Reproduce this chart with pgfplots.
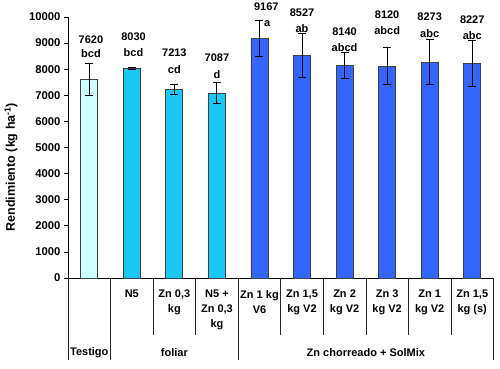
\documentclass[border=0pt]{standalone}
\usepackage{pgfplots}
\pgfplotsset{compat=1.18}
\usepackage{fontspec}
\setmainfont{Liberation Sans}
\definecolor{testigo}{RGB}{204,255,255}
\definecolor{foliar}{RGB}{25,200,245}
\definecolor{zn}{RGB}{51,102,255}
\tikzset{table line/.style={black!85, line width=0.7pt},
 cat/.style={anchor=north, align=center, inner sep=0pt, yshift=-12pt}}
\begin{document}
\begin{tikzpicture}[font=\fontsize{11}{15}\selectfont\bfseries]
\useasboundingbox (-68pt,-90pt) rectangle (432pt,278pt);
\begin{axis}[
 at={(0,0)}, anchor=south west,
 scale only axis, width=425.5pt, height=261pt,
 xmin=-0.5, xmax=9.5, ymin=0, ymax=10000,
 axis x line*=bottom, axis y line*=left,
 axis line style={-, black, line width=0.8pt},
 xtick=\empty, ytick={0,1000,...,10000},
 scaled y ticks=false,
 tick align=outside, major tick length=4pt,
 tick style={black, line width=0.8pt},
 y tick label style={/pgf/number format/fixed, /pgf/number format/1000 sep={}, /pgf/number format/assume math mode=true, font=\fontsize{11.3}{13}\selectfont\bfseries},
 clip=false,
 ybar, bar width=17pt, bar shift=0pt,
 error bars/error bar style={line width=1pt, black},
 error bars/error mark options={rotate=90, black, mark size=4pt, line width=1pt},
]
\addplot[fill=testigo, draw=black!75, line width=0.8pt, error bars/.cd, y dir=both, y explicit]
 coordinates {(0,7620) +- (0,615)};
\addplot[fill=foliar, draw=black!75, line width=0.8pt, error bars/.cd, y dir=both, y explicit]
 coordinates {(1,8030) +- (0,30) (2,7213) +- (0,190) (3,7087) +- (0,410)};
\addplot[fill=zn, draw=black!75, line width=0.8pt, error bars/.cd, y dir=both, y explicit]
 coordinates {(4,9167) +- (0,680) (5,8527) +- (0,850) (6,8140) +- (0,490) (7,8120) +- (0,700) (8,8273) +- (0,860) (9,8227) +- (0,880)};
% value labels
\node at (axis cs:0.04,9119) {7620}; \node at (axis cs:0.04,8602) {bcd};
\node at (axis cs:1.04,9234) {8030}; \node at (axis cs:1.04,8621) {bcd};
\node at (axis cs:2,8621) {7213}; \node at (axis cs:2,7969) {cd};
\node at (axis cs:3,8429) {7087}; \node at (axis cs:3,7778) {d};
\node at (axis cs:4.16,10383) {9167}; \node at (axis cs:4.18,9732) {a};
\node at (axis cs:5,10153) {8527}; \node at (axis cs:5,9540) {ab};
\node at (axis cs:6,9425) {8140}; \node at (axis cs:6,8812) {abcd};
\node at (axis cs:7,10077) {8120}; \node at (axis cs:7,9464) {abcd};
\node at (axis cs:8,10000) {8273}; \node at (axis cs:8,9349) {abc};
\node at (axis cs:9,9885) {8227}; \node at (axis cs:9,9272) {abc};
% y label
\node[rotate=90, font=\fontsize{12.5}{14}\selectfont\bfseries] at ([xshift=-57pt]axis description cs:0,0.425) {Rendimiento (kg ha\textsuperscript{-1})};
% table lines
\draw[table line] (axis cs:-0.5,0) -- ([yshift=-82pt]axis cs:-0.5,0);
\draw[table line] (axis cs:0.5,0) -- ([yshift=-82pt]axis cs:0.5,0);
\draw[table line] (axis cs:3.5,0) -- ([yshift=-82pt]axis cs:3.5,0);
\draw[table line] (axis cs:9.5,0) -- ([yshift=-82pt]axis cs:9.5,0);
\draw[table line] (axis cs:1.5,0) -- ([yshift=-57pt]axis cs:1.5,0);
\draw[table line] (axis cs:2.5,0) -- ([yshift=-57pt]axis cs:2.5,0);
\draw[table line] (axis cs:4.5,0) -- ([yshift=-57pt]axis cs:4.5,0);
\draw[table line] (axis cs:5.5,0) -- ([yshift=-57pt]axis cs:5.5,0);
\draw[table line] (axis cs:6.5,0) -- ([yshift=-57pt]axis cs:6.5,0);
\draw[table line] (axis cs:7.5,0) -- ([yshift=-57pt]axis cs:7.5,0);
\draw[table line] (axis cs:8.5,0) -- ([yshift=-57pt]axis cs:8.5,0);
% category labels
\node[cat] at (axis cs:1,0) {N5};
\node[cat] at (axis cs:2,0) {Zn 0,3\\kg};
\node[cat] at (axis cs:3,0) {N5 +\\Zn 0,3\\kg};
\node[cat] at (axis cs:4,0) {Zn 1 kg\\V6};
\node[cat] at (axis cs:5,0) {Zn 1,5\\kg V2};
\node[cat] at (axis cs:6,0) {Zn 2\\kg V2};
\node[cat] at (axis cs:7,0) {Zn 3\\kg V2};
\node[cat] at (axis cs:8,0) {Zn 1\\kg V2};
\node[cat] at (axis cs:9,0) {Zn 1,5\\kg (s)};
\node at ([yshift=-75pt]axis cs:0,0) {Testigo};
\node at ([yshift=-75pt]axis cs:2,0) {foliar};
\node at ([yshift=-75pt]axis cs:6.5,0) {Zn chorreado + SolMix};
\end{axis}
\end{tikzpicture}
\end{document}
